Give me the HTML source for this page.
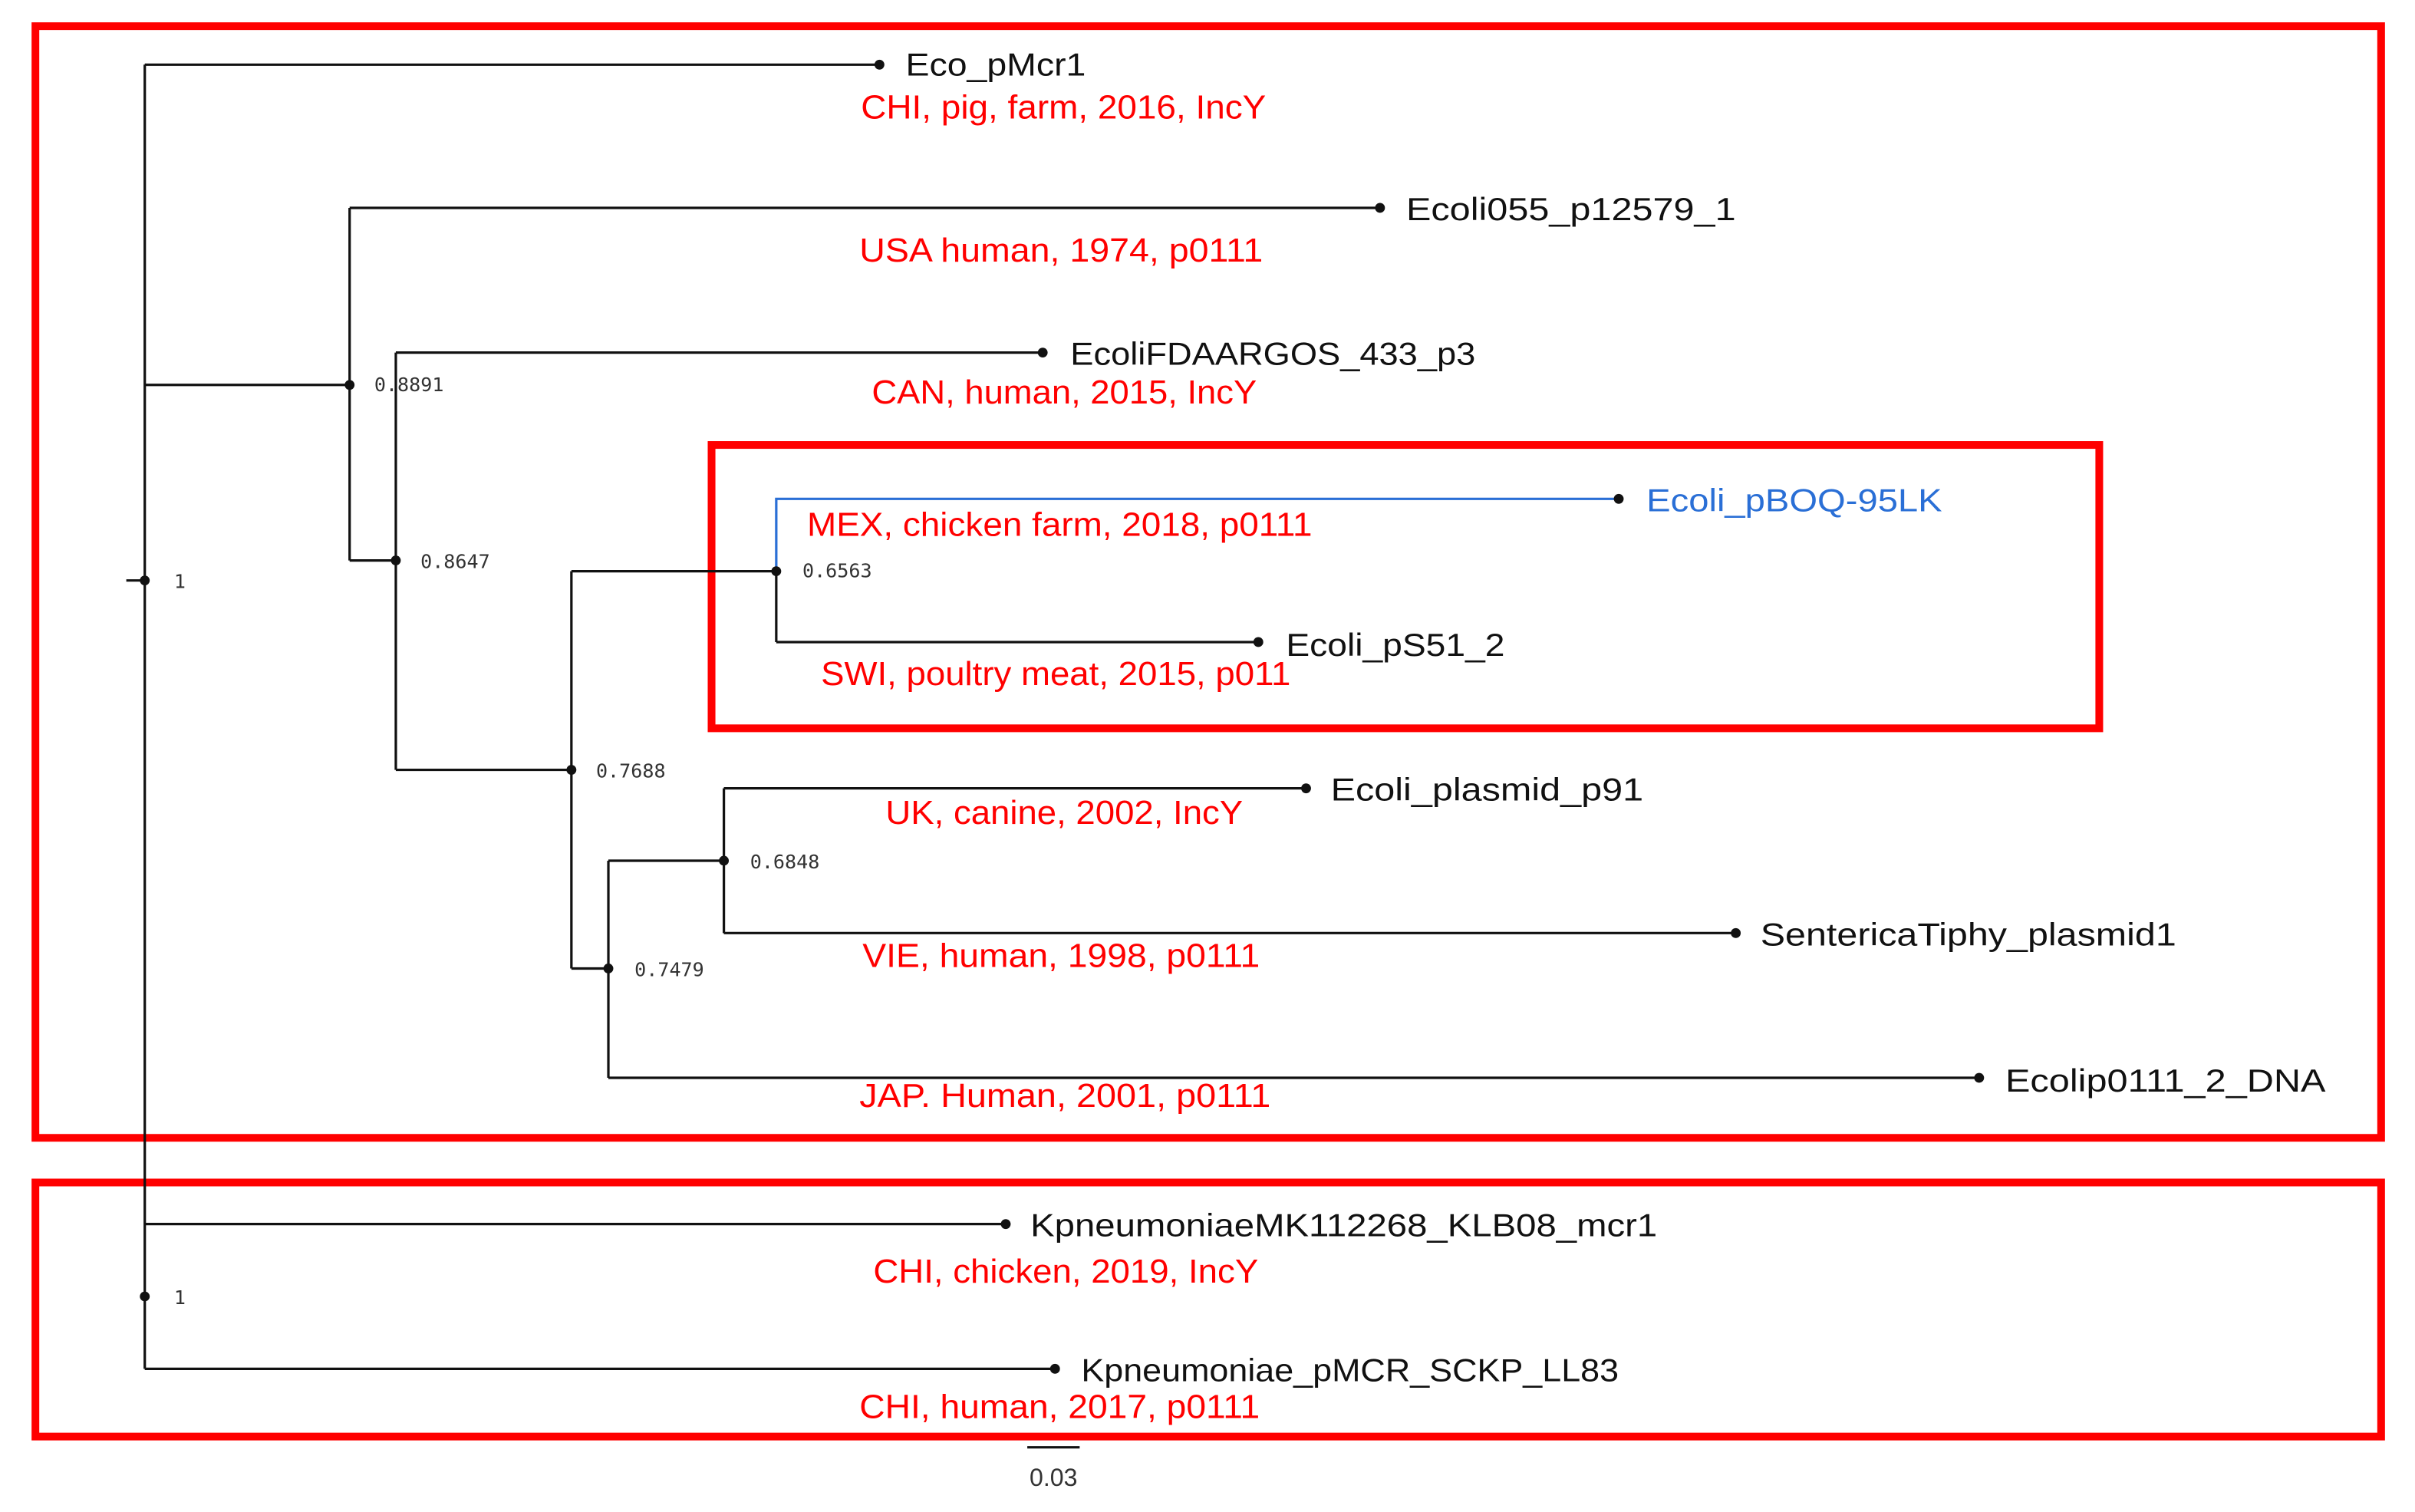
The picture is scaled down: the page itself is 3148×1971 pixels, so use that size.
<!DOCTYPE html>
<html><head><meta charset="utf-8"><style>
html,body{margin:0;padding:0;background:#fff;width:3148px;height:1971px;overflow:hidden}
svg{display:block}
text{font-family:"Liberation Sans",sans-serif}
.l{font-size:21px;fill:#111}
.r{font-size:21.5px;fill:#f00}
.b{font-size:12.5px;fill:#333;font-family:"DejaVu Sans Mono","Liberation Mono",monospace}
</style></head><body>
<svg width="3148" height="1971" viewBox="0 0 1568 982" preserveAspectRatio="none" xmlns="http://www.w3.org/2000/svg">
<g fill="none" stroke="#f00" stroke-width="5">
<rect x="23" y="17" width="1523" height="722"/>
<rect x="462" y="289" width="901" height="184"/>
<rect x="23" y="768" width="1523" height="165"/>
</g>
<g fill="none" stroke="#111" stroke-width="1.6">
<path d="M82 377H94M94 42V889M94 42H571M94 250H227M227 135V364M227 135H896M227 364H257M257 229V500M257 229H677M257 500H371M371 371V629M371 371H504M504 371V417M504 417H817M371 629H395M395 559V700M395 559H470M470 512V606M470 512H848M470 606H1127M395 700H1285M94 795H653M94 889H685M667 940H701"/>
</g>
<path d="M504 371V324H1051" fill="none" stroke="#2a6fd6" stroke-width="1.6"/>
<g fill="#111">
<circle cx="94" cy="377" r="3.2"/><circle cx="571" cy="42" r="3.2"/><circle cx="227" cy="250" r="3.2"/><circle cx="896" cy="135" r="3.2"/><circle cx="257" cy="364" r="3.2"/><circle cx="677" cy="229" r="3.2"/><circle cx="371" cy="500" r="3.2"/><circle cx="504" cy="371" r="3.2"/><circle cx="1051" cy="324" r="3.2"/><circle cx="817" cy="417" r="3.2"/><circle cx="395" cy="629" r="3.2"/><circle cx="470" cy="559" r="3.2"/><circle cx="848" cy="512" r="3.2"/><circle cx="1127" cy="606" r="3.2"/><circle cx="1285" cy="700" r="3.2"/><circle cx="94" cy="842" r="3.2"/><circle cx="653" cy="795" r="3.2"/><circle cx="685" cy="889" r="3.2"/>
</g>
<g lengthAdjust="spacingAndGlyphs">
<text class="l" x="588" y="49" textLength="117" lengthAdjust="spacingAndGlyphs">Eco_pMcr1</text>
<text class="r" x="559" y="77" textLength="263" lengthAdjust="spacingAndGlyphs">CHI, pig, farm, 2016, IncY</text>
<text class="l" x="913" y="143" textLength="214" lengthAdjust="spacingAndGlyphs">Ecoli055_p12579_1</text>
<text class="r" x="558" y="170" textLength="262" lengthAdjust="spacingAndGlyphs">USA human, 1974, p0111</text>
<text class="l" x="695" y="237" textLength="263" lengthAdjust="spacingAndGlyphs">EcoliFDAARGOS_433_p3</text>
<text class="r" x="566" y="262" textLength="250" lengthAdjust="spacingAndGlyphs">CAN, human, 2015, IncY</text>
<text class="l" x="1069" y="332" textLength="192" lengthAdjust="spacingAndGlyphs" style="fill:#2a6fd6">Ecoli_pBOQ-95LK</text>
<text class="r" x="524" y="348" textLength="328" lengthAdjust="spacingAndGlyphs">MEX, chicken farm, 2018, p0111</text>
<text class="l" x="835" y="426" textLength="142" lengthAdjust="spacingAndGlyphs">Ecoli_pS51_2</text>
<text class="r" x="533" y="445" textLength="305" lengthAdjust="spacingAndGlyphs">SWI, poultry meat, 2015, p011</text>
<text class="l" x="864" y="520" textLength="203" lengthAdjust="spacingAndGlyphs">Ecoli_plasmid_p91</text>
<text class="r" x="575" y="535" textLength="232" lengthAdjust="spacingAndGlyphs">UK, canine, 2002, IncY</text>
<text class="l" x="1143" y="614" textLength="270" lengthAdjust="spacingAndGlyphs">SentericaTiphy_plasmid1</text>
<text class="r" x="560" y="628" textLength="258" lengthAdjust="spacingAndGlyphs">VIE, human, 1998, p0111</text>
<text class="l" x="1302" y="709" textLength="208" lengthAdjust="spacingAndGlyphs">Ecolip0111_2_DNA</text>
<text class="r" x="558" y="719" textLength="267" lengthAdjust="spacingAndGlyphs">JAP. Human, 2001, p0111</text>
<text class="l" x="669" y="803" textLength="407" lengthAdjust="spacingAndGlyphs">KpneumoniaeMK112268_KLB08_mcr1</text>
<text class="r" x="567" y="833" textLength="250" lengthAdjust="spacingAndGlyphs">CHI, chicken, 2019, IncY</text>
<text class="l" x="702" y="897" textLength="349" lengthAdjust="spacingAndGlyphs">Kpneumoniae_pMCR_SCKP_LL83</text>
<text class="r" x="558" y="921" textLength="260" lengthAdjust="spacingAndGlyphs">CHI, human, 2017, p0111</text>
</g>
<text class="b" x="113" y="382">1</text>
<text class="b" x="243" y="254">0.8891</text>
<text class="b" x="273" y="369">0.8647</text>
<text class="b" x="521" y="375">0.6563</text>
<text class="b" x="387" y="505">0.7688</text>
<text class="b" x="487" y="564">0.6848</text>
<text class="b" x="412" y="634">0.7479</text>
<text class="b" x="113" y="847">1</text>
<text x="684" y="965" text-anchor="middle" style="font-size:16px;fill:#333">0.03</text>
</svg>
</body></html>
